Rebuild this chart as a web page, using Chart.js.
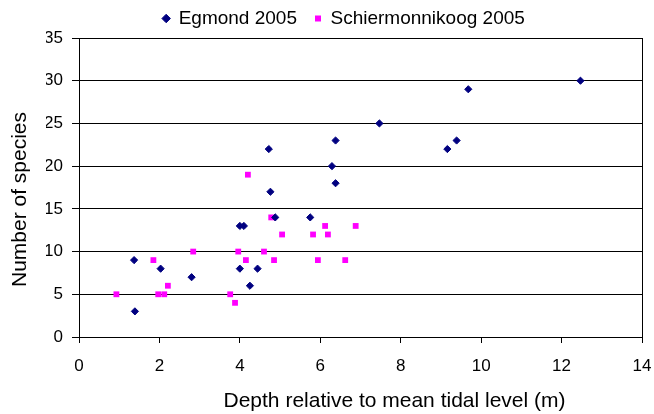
<!DOCTYPE html>
<html><head><meta charset="utf-8">
<script src="https://cdn.jsdelivr.net/npm/chart.js@4/dist/chart.umd.min.js"></script>
<style>html,body{margin:0;padding:0;background:#fff;}canvas{display:block;}</style>
</head><body>
<canvas id="c" width="654" height="414"></canvas>
<script>
const seriesNames = ['Egmond 2005', 'Schiermonnikoog 2005'];
const egmondDepth   = [1.37, 1.39, 2.03, 2.80, 4.00, 4.10, 4.00, 4.25, 4.44, 4.72, 4.76, 4.88, 5.75, 6.29, 6.38, 6.38, 7.47, 9.16, 9.39, 9.68, 12.47];
const egmondSpecies = [9,    3,    8,    7,    13,   13,   8,    6,    8,    22,   17,   14,   14,   20,   23,   18,   25,   22,   23,   29,   30];
const schierDepth   = [0.93, 1.85, 1.97, 2.12, 2.21, 2.84, 3.76, 3.88, 3.96, 4.15, 4.20, 4.60, 4.78, 4.85, 5.05, 5.82, 5.94, 6.12, 6.19, 6.62, 6.88];
const schierSpecies = [5,    9,    5,    5,    6,    10,   5,    4,    10,   9,    19,   10,   14,   9,    12,   12,   9,    13,   12,   9,    13];
const xTitle = 'Depth relative to mean tidal level (m)';
const yTitle = 'Number of species';

const toPts = (xs, ys) => xs.map((x, i) => ({x: x, y: ys[i]}));

class TitleShiftLinear extends Chart.LinearScale {
  drawTitle() {
    const o = this.options.title || {};
    const ctx = this.ctx;
    ctx.save();
    ctx.translate(o.shiftX || 0, o.shiftY || 0);
    super.drawTitle();
    ctx.restore();
  }
}
TitleShiftLinear.id = 'titleShiftLinear';
TitleShiftLinear.defaults = Chart.LinearScale.defaults;
Chart.register(TitleShiftLinear);

const frame = {
  id: 'frame',
  beforeDatasetsDraw(chart) {
    const {ctx, chartArea: a} = chart;
    ctx.save();
    ctx.strokeStyle = '#000';
    ctx.lineWidth = 1;
    const l = Math.round(a.left) + 0.5, t = Math.round(a.top) + 0.5;
    const r = Math.round(a.right) + 0.5, b = Math.round(a.bottom) + 0.5;
    ctx.strokeRect(l, t, r - l, b - t);
    ctx.restore();
  }
};

const FONT = "'Liberation Sans', Arial, sans-serif";
Chart.defaults.font.family = FONT;
Chart.defaults.color = '#000';

new Chart(document.getElementById('c'), {
  type: 'scatter',
  data: {
    datasets: [
      {label: seriesNames[0], data: toPts(egmondDepth, egmondSpecies),
       pointStyle: 'rectRot', pointRadius: 3.6, pointHoverRadius: 3.6,
       backgroundColor: '#000080', borderColor: '#000080', borderWidth: 1},
      {label: seriesNames[1], data: toPts(schierDepth, schierSpecies),
       pointStyle: 'rect', pointRadius: 4.1, pointHoverRadius: 4.1,
       backgroundColor: '#FF00FF', borderColor: '#FF00FF', borderWidth: 0}
    ]
  },
  options: {
    responsive: false,
    animation: false,
    devicePixelRatio: 1,
    layout: {padding: {left: 46, right: 12, top: -9, bottom: 0}},
    plugins: {
      legend: {
        position: 'top',
        labels: {usePointStyle: true, boxWidth: 6, boxHeight: 6, padding: 18,
                 font: {size: 19, family: FONT}, color: '#000'}
      },
      tooltip: {enabled: false}
    },
    scales: {
      x: {
        type: 'titleShiftLinear', position: 'bottom', min: 0, max: 14,
        afterFit: s => { s.height = 77; s.paddingLeft = 0; s.paddingRight = 0; },
        ticks: {stepSize: 2, font: {size: 17, family: FONT}, color: '#000', padding: 13},
        grid: {display: true, drawOnChartArea: false, drawTicks: true, tickLength: 6, color: '#000'},
        border: {display: true, color: '#000'},
        title: {display: true, text: xTitle, font: {size: 21, family: FONT}, color: '#000',
                padding: {top: 0, bottom: 0}, shiftX: 34}
      },
      y: {
        type: 'titleShiftLinear', position: 'left', min: 0, max: 35,
        afterFit: s => { s.width = 33; },
        ticks: {stepSize: 5, font: {size: 17, family: FONT}, color: '#000', padding: 9},
        grid: {display: true, drawTicks: true, tickLength: 7, color: '#000'},
        border: {display: true, color: '#000'},
        title: {display: true, text: yTitle, font: {size: 21, family: FONT}, color: '#000',
                padding: {top: 0, bottom: 0}, shiftX: -38, shiftY: 12}
      }
    }
  },
  plugins: [frame]
});
</script>
</body></html>
